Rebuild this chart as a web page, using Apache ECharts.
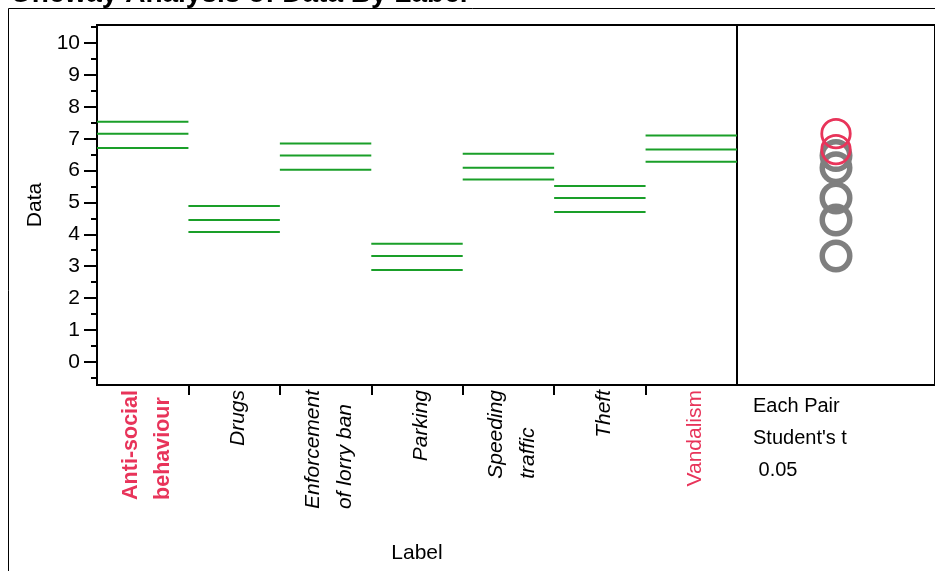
<!DOCTYPE html>
<html><head><meta charset="utf-8">
<script src="https://cdn.jsdelivr.net/npm/echarts@6/dist/echarts.min.js"></script>
<style>html,body{margin:0;padding:0;background:#fff}#c{width:935px;height:571px}</style>
</head><body><div id="c"></div>
<script>
// ---- data ----
const categories = ['Anti-social\nbehaviour', 'Drugs', 'Enforcement\nof lorry ban', 'Parking', 'Speeding\ntraffic', 'Theft', 'Vandalism'];
const upperValues = [7.53, 4.89, 6.85, 3.70, 6.53, 5.52, 7.10];
const meanValues  = [7.16, 4.45, 6.47, 3.32, 6.09, 5.14, 6.66];
const lowerValues = [6.71, 4.07, 6.03, 2.88, 5.72, 4.70, 6.28];
const yTickLabels = [0, 1, 2, 3, 4, 5, 6, 7, 8, 9, 10];
const yMinorTicks = [-0.5, 0.5, 1.5, 2.5, 3.5, 4.5, 5.5, 6.5, 7.5, 8.5, 9.5, 10.5];
const selectedGroup = 'Anti-social\nbehaviour';
const notSeparatedGroups = ['Vandalism'];
const titleText = 'Oneway Analysis of Data By Label';
const compareText = 'Each Pair\nStudent\'s t\n 0.05';
const yMin = -0.73, yMax = 10.57;

// ---- styling ----
const FONT = '"Liberation Sans", Arial, Helvetica, sans-serif';
const RED = '#e8345a';
const GREEN = '#1a9f29';
const GRAY = '#7f7f7f';

function segments(vals) {
  const d = [];
  vals.forEach((v, i) => { d.push([i, v], [i + 1, v], [i + 1, '-']); });
  return d;
}
const redIdx = categories.map((c, i) => (c === selectedGroup || notSeparatedGroups.includes(c)) ? i : -1).filter(i => i >= 0);
const grayCircles = [], redCircles = [];
meanValues.forEach((m, i) => { (redIdx.includes(i) ? redCircles : grayCircles).push([0.5, m]); });

const lineSeries = (vals) => ({
  type: 'line', xAxisIndex: 1, yAxisIndex: 0, data: segments(vals),
  showSymbol: false, symbol: 'none', connectNulls: false, silent: true,
  lineStyle: { color: GREEN, width: 2 }
});

const chart = echarts.init(document.getElementById('c'));
chart.setOption({
  animation: false,
  backgroundColor: '#fff',
  title: {
    text: titleText, left: 10, top: -20, padding: 0,
    textStyle: { fontFamily: FONT, fontSize: 28, fontWeight: 'bold', color: '#000' }
  },
  graphic: [
    { type: 'rect', shape: { x: 8.5, y: 8.5, width: 2000, height: 2000 }, style: { fill: 'none', stroke: '#000', lineWidth: 1 }, z: -1 },
    { type: 'text', left: 753, top: 390, style: { text: compareText, font: '20px ' + FONT, lineHeight: 32, fill: '#000' } }
  ],
  grid: [
    { left: 97, top: 25, right: 198, bottom: 186, show: true, borderColor: '#000', borderWidth: 2, backgroundColor: 'transparent' },
    { left: 737, top: 25, right: -6, bottom: 186, show: true, borderColor: '#000', borderWidth: 2, backgroundColor: 'transparent' }
  ],
  xAxis: [
    {
      type: 'category', gridIndex: 0, data: categories, position: 'bottom',
      axisLine: { show: false, onZero: false }, axisTick: { show: false }, splitLine: { show: false },
      name: 'Label', nameLocation: 'middle', nameGap: 158,
      nameTextStyle: { fontFamily: FONT, fontSize: 21, color: '#000' },
      axisLabel: {
        interval: 0, rotate: 90, margin: 5, hideOverlap: false,
        padding: [8, 0, 0, 0],
        fontFamily: FONT, fontSize: 21, color: '#000',
        formatter: function (val, idx) {
          const st = val === selectedGroup ? 'b' : (notSeparatedGroups.includes(val) ? 'r' : 'i');
          return val.split('\n').map(l => '{' + st + '|' + l + '}').join('\n');
        },
        rich: {
          i: { fontFamily: FONT, fontSize: 21, fontStyle: 'italic', color: '#000', align: 'left', lineHeight: 32 },
          b: { fontFamily: FONT, fontSize: 21.5, fontWeight: 'bold', color: RED, align: 'left', lineHeight: 32 },
          r: { fontFamily: FONT, fontSize: 21, color: RED, align: 'left', lineHeight: 32 }
        }
      }
    },
    {
      type: 'value', gridIndex: 0, min: 0, max: categories.length, interval: categories.length, position: 'bottom',
      axisLine: { show: false, onZero: false }, axisTick: { show: false }, axisLabel: { show: false },
      splitLine: { show: false }, minorSplitLine: { show: false },
      minorTick: { show: true, splitNumber: categories.length, length: 10, lineStyle: { color: '#000', width: 2 } }
    },
    {
      type: 'value', gridIndex: 1, min: 0, max: 1, show: false
    }
  ],
  yAxis: [
    {
      type: 'value', gridIndex: 0, min: yMin, max: yMax, position: 'left',
      axisLine: { show: false, onZero: false }, splitLine: { show: false },
      axisTick: { show: true, customValues: yTickLabels, length: 13, lineStyle: { color: '#000', width: 2 } },
      axisLabel: { customValues: yTickLabels, margin: 17, fontFamily: FONT, fontSize: 21, color: '#000' },
      name: 'Data', nameLocation: 'middle', nameGap: 42,
      nameTextStyle: { fontFamily: FONT, fontSize: 21, color: '#000' }
    },
    {
      type: 'value', gridIndex: 0, min: yMin, max: yMax, position: 'left', offset: 0,
      axisLine: { show: false, onZero: false }, splitLine: { show: false }, axisLabel: { show: false },
      axisTick: { show: true, customValues: yMinorTicks, length: 6, lineStyle: { color: '#000', width: 2 } }
    },
    { type: 'value', gridIndex: 1, min: yMin, max: yMax, show: false }
  ],
  series: [
    lineSeries(upperValues),
    lineSeries(meanValues),
    lineSeries(lowerValues),
    {
      type: 'scatter', xAxisIndex: 2, yAxisIndex: 2, data: grayCircles, symbol: 'circle', symbolSize: 27.5, silent: true,
      itemStyle: { color: 'rgba(0,0,0,0)', borderColor: GRAY, borderWidth: 5.5, opacity: 1 }
    },
    {
      type: 'scatter', xAxisIndex: 2, yAxisIndex: 2, data: redCircles, symbol: 'circle', symbolSize: 28.5, silent: true,
      itemStyle: { color: 'rgba(0,0,0,0)', borderColor: RED, borderWidth: 2.8, opacity: 1 }
    }
  ]
});
</script>
</body></html>
